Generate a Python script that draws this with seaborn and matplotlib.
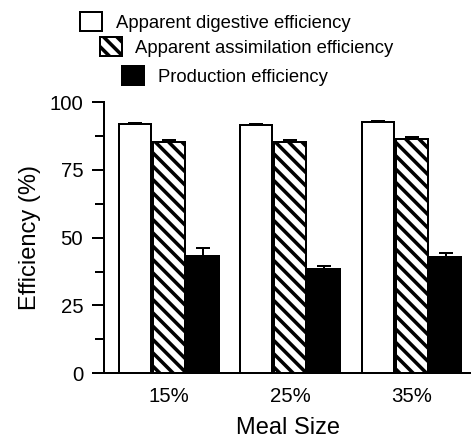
import matplotlib
matplotlib.use("Agg")
import matplotlib.pyplot as plt
from matplotlib.patches import Patch
import seaborn as sns
import pandas as pd

# ---- data ----
meal_sizes = ["15%", "25%", "35%"]
series_names = ["Apparent digestive efficiency",
                "Apparent assimilation efficiency",
                "Production efficiency"]
digestive = [91.9, 91.5, 92.6]
digestive_se = [0.5, 0.5, 0.5]
assimilation = [85.3, 85.3, 86.4]
assimilation_se = [0.6, 0.6, 0.6]
production = [43.4, 38.6, 43.0]
production_se = [2.6, 1.0, 1.5]
y_ticks = [0, 25, 50, 75, 100]

values = [digestive, assimilation, production]
errors = [digestive_se, assimilation_se, production_se]
face_colors = ["white", "white", "black"]
hatches = ["", "\\\\", ""]

rows = []
for s, vals in zip(series_names, values):
    for m, v in zip(meal_sizes, vals):
        rows.append({"Meal Size": m, "Series": s, "Efficiency": v})
df = pd.DataFrame(rows)

sns.set_style("ticks")
plt.rcParams["font.family"] = ["Liberation Sans", "DejaVu Sans"]
plt.rcParams["hatch.linewidth"] = 3.2
plt.rcParams["hatch.color"] = "black"
plt.rcParams["text.color"] = "black"
plt.rcParams["axes.labelcolor"] = "black"
plt.rcParams["xtick.color"] = "black"
plt.rcParams["ytick.color"] = "black"
plt.rcParams["xtick.labelcolor"] = "black"
plt.rcParams["ytick.labelcolor"] = "black"

DPI = 80
fig = plt.figure(figsize=(471 / DPI, 438 / DPI), dpi=DPI)
ax = fig.add_axes([0.221, 0.148, 0.779, 0.619])

sns.barplot(data=df, x="Meal Size", y="Efficiency", hue="Series",
            order=meal_sizes, hue_order=series_names,
            palette=face_colors, edgecolor="black", linewidth=1.8,
            width=0.84, gap=0.06, errorbar=None, legend=False,
            saturation=1, ax=ax)

bar_containers = list(ax.containers)
for i, cont in enumerate(bar_containers):
    xs, ys = [], []
    for bar in cont:
        bar.set_facecolor(face_colors[i])
        bar.set_edgecolor("black")
        bar.set_hatch(hatches[i])
        xs.append(bar.get_x() + bar.get_width() / 2)
        ys.append(bar.get_height())
    ax.errorbar(xs, ys, yerr=[[0] * len(errors[i]), errors[i]], fmt="none",
                ecolor="black", elinewidth=1.8, capsize=6.3, capthick=1.8,
                zorder=1)

ax.set_xlim(-0.535, 2.49)
ax.set_ylim(0, 100)
ax.set_yticks(y_ticks)
ax.set_yticks([12.5, 37.5, 62.5, 87.5], minor=True)
ax.tick_params(axis="y", which="major", length=10.8, width=1.8,
               labelsize=18.4, pad=8, color="black", labelcolor="black")
ax.tick_params(axis="y", which="minor", length=8, width=1.8, color="black")
ax.tick_params(axis="x", length=0, labelsize=18.4, pad=12, labelcolor="black")
ax.set_xlabel("Meal Size", fontsize=21.3, labelpad=10, color="black")
ax.set_ylabel("Efficiency (%)", fontsize=21.3, labelpad=8, color="black")
sns.despine(ax=ax)
for sp in ["left", "bottom"]:
    ax.spines[sp].set_linewidth(1.8)
    ax.spines[sp].set_color("black")

# staggered legend entries
leg_pos = [(0.170, 0.950), (0.212, 0.893), (0.259, 0.826)]
for i, name in enumerate(series_names):
    h = Patch(facecolor=face_colors[i], edgecolor="black",
              hatch=hatches[i], linewidth=1.8)
    leg = fig.legend([h], [name], loc="center left",
                     bbox_to_anchor=leg_pos[i], bbox_transform=fig.transFigure,
                     frameon=False, borderpad=0, borderaxespad=0,
                     handlelength=1.2, handleheight=1.2,
                     handletextpad=0.72, fontsize=16.7, labelcolor="black")

fig.savefig("out.png", dpi=DPI)
